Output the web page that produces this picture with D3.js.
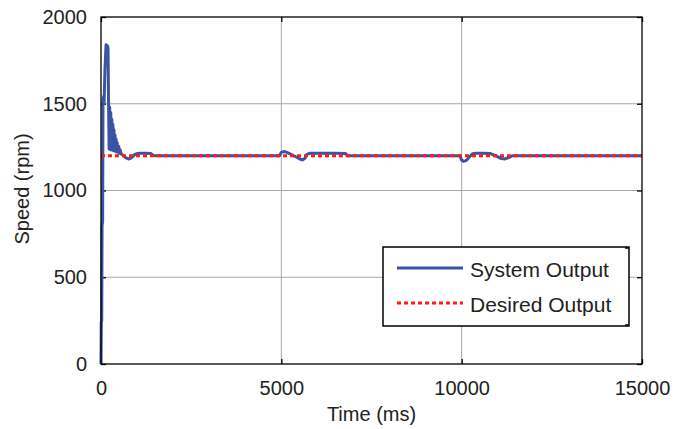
<!DOCTYPE html>
<html>
<head>
<meta charset="utf-8">
<script src="https://cdn.jsdelivr.net/npm/d3@7"></script>
<style>
  body { margin: 0; background: #fff; }
  svg { display: block; font-family: "Liberation Sans", Arial, sans-serif; }
</style>
</head>
<body>
<div id="chart"></div>
<script>
var timeMs = [0, 8, 20, 30, 45, 55, 70, 85, 110, 140, 175, 195, 210, 225,
  240, 255, 270, 285, 300, 315, 330, 345, 360, 375, 390, 405, 420, 435, 450, 470, 490, 510, 530, 560, 600,
  650, 700, 760, 820, 880, 940, 1000, 1100, 1250, 1380, 1430, 1500,
  4950, 5000, 5080, 5200, 5350, 5500, 5580, 5650, 5720, 5800, 6000, 6500, 6780, 6830,
  9950, 10000, 10050, 10120, 10200, 10300, 10400, 10600, 10800, 10950, 11100, 11200, 11300, 11400,
  15000];
var speedRpm = [0, 240, 250, 800, 820, 1500, 1540, 1500, 1700, 1840, 1835, 1820, 1500, 1240,
  1480, 1235, 1450, 1235, 1410, 1232, 1380, 1230, 1350, 1228, 1320, 1225, 1295, 1222, 1275, 1220, 1255, 1215, 1235, 1210, 1205,
  1195, 1188, 1182, 1185, 1195, 1208, 1213, 1214, 1214, 1213, 1205, 1200,
  1200, 1220, 1225, 1215, 1200, 1183, 1176, 1185, 1210, 1215, 1214, 1214, 1213, 1200,
  1200, 1175, 1168, 1172, 1190, 1212, 1215, 1215, 1213, 1200, 1184, 1182, 1190, 1200,
  1200];
var desiredRpm = 1200;

var xTicks = [0, 5000, 10000, 15000];
var yTicks = [0, 500, 1000, 1500, 2000];
var legendLabels = ["System Output", "Desired Output"];

var W = 689, H = 429;
var m = { left: 101, right: 47, top: 17, bottom: 65 };
var iw = W - m.left - m.right, ih = H - m.top - m.bottom;

var svg = d3.select("#chart").append("svg").attr("width", W).attr("height", H);
var g = svg.append("g").attr("transform", "translate(" + m.left + "," + m.top + ")");

var x = d3.scaleLinear().domain([0, 15000]).range([0, iw]);
var y = d3.scaleLinear().domain([0, 2000]).range([ih, 0]);

// grid
g.append("g").attr("class", "grid").selectAll("line.vx").data(xTicks.slice(1, -1)).enter().append("line")
  .attr("x1", d => x(d)).attr("x2", d => x(d)).attr("y1", 0).attr("y2", ih)
  .attr("stroke", "#a8a8a8").attr("stroke-width", 1);
g.append("g").attr("class", "grid").selectAll("line.hy").data(yTicks.slice(1, -1)).enter().append("line")
  .attr("x1", 0).attr("x2", iw).attr("y1", d => y(d)).attr("y2", d => y(d))
  .attr("stroke", "#a8a8a8").attr("stroke-width", 1);

// axes: labels outside, ticks inward on all four sides
function styleAxis(sel) {
  sel.select(".domain").remove();
  sel.selectAll(".tick line").attr("stroke", "#000").attr("stroke-width", 1.3);
  sel.selectAll(".tick text").attr("fill", "#222").attr("font-size", 20).attr("font-family", "Liberation Sans, Arial, sans-serif");
}
g.append("g").attr("transform", "translate(0," + ih + ")")
  .call(d3.axisBottom(x).tickValues(xTicks).tickSize(-5).tickPadding(17).tickFormat(d3.format("d")))
  .call(styleAxis);
g.append("g")
  .call(d3.axisLeft(y).tickValues(yTicks).tickSize(-5).tickPadding(14).tickFormat(d3.format("d")))
  .call(styleAxis);
g.append("g")
  .call(d3.axisTop(x).tickValues(xTicks).tickSize(-5).tickFormat(""))
  .call(styleAxis);
g.append("g").attr("transform", "translate(" + iw + ",0)")
  .call(d3.axisRight(y).tickValues(yTicks).tickSize(-5).tickFormat(""))
  .call(styleAxis);

// data
var pts = timeMs.map((t, i) => [t, speedRpm[i]]);
var line = d3.line().x(d => x(d[0])).y(d => y(d[1]));
g.append("path").datum(pts).attr("d", line)
  .attr("fill", "none").attr("stroke", "#3a53a4").attr("stroke-width", 3).attr("stroke-linejoin", "round");
g.append("line")
  .attr("x1", x(0)).attr("x2", x(15000)).attr("y1", y(desiredRpm)).attr("y2", y(desiredRpm))
  .attr("stroke", "#ff1a1a").attr("stroke-width", 3).attr("stroke-dasharray", "4,3");

// frame
g.append("rect").attr("width", iw).attr("height", ih)
  .attr("fill", "none").attr("stroke", "#000").attr("stroke-width", 1.3);

// axis titles
svg.append("text").attr("x", m.left + iw / 2).attr("y", 421).attr("text-anchor", "middle")
  .attr("font-size", 20).attr("fill", "#222").text("Time (ms)");
svg.append("text").attr("transform", "translate(29," + 189 + ") rotate(-90)").attr("text-anchor", "middle")
  .attr("font-size", 20).attr("fill", "#222").text("Speed (rpm)");

// legend
var lg = svg.append("g").attr("transform", "translate(383,247)");
lg.append("rect").attr("width", 246).attr("height", 79).attr("fill", "#fff")
  .attr("stroke", "#000").attr("stroke-width", 1.5);
lg.append("line").attr("x1", 246).attr("x2", 242).attr("y1", 1).attr("y2", 1).attr("stroke", "#000").attr("stroke-width", 1.5);
lg.append("line").attr("x1", 246).attr("x2", 242).attr("y1", 78).attr("y2", 78).attr("stroke", "#000").attr("stroke-width", 1.5);
var styles = [{ c: "#3a53a4", dash: null }, { c: "#ff1a1a", dash: "4,3" }];
legendLabels.forEach(function (lab, i) {
  var yy = 21 + i * 35;
  lg.append("line").attr("x1", 14).attr("x2", 80).attr("y1", yy).attr("y2", yy)
    .attr("stroke", styles[i].c).attr("stroke-width", 3).attr("stroke-dasharray", styles[i].dash);
  lg.append("text").attr("x", 87).attr("y", yy + 9).attr("font-size", 21).attr("fill", "#222").text(lab);
});
</script>
</body>
</html>
